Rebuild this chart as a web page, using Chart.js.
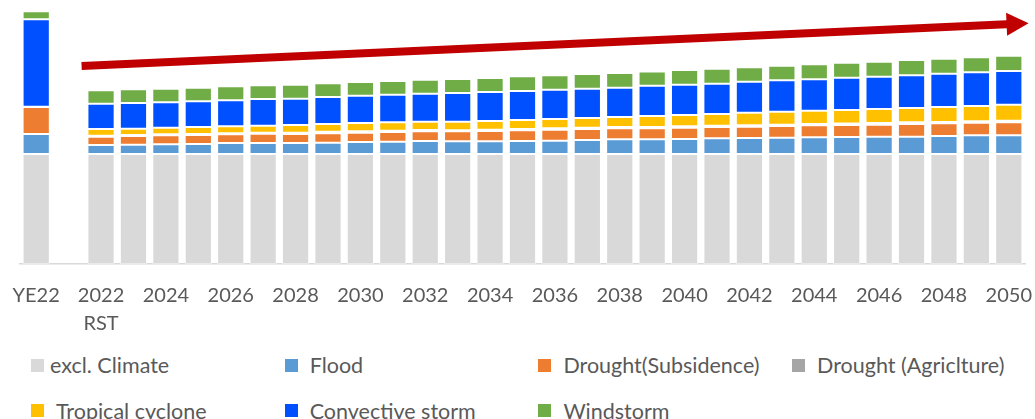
<!DOCTYPE html>
<html>
<head>
<meta charset="utf-8">
<script src="https://cdn.jsdelivr.net/npm/chart.js@4"></script>
<style>
  html, body { margin: 0; padding: 0; background: #fff; }
  body { width: 1035px; height: 419px; overflow: hidden; position: relative; font-family: Lato, "Open Sans", sans-serif; }
  #wrap { position: absolute; left: 0; top: 0; width: 1035px; height: 340px; }
  #legend { position: absolute; left: 31px; top: 350px; width: 1015px; display: grid; grid-template-columns: repeat(4, 253.7px); grid-auto-rows: 45.7px; }
  .item { display: flex; align-items: center; height: 30px; color: #595959; font-size: 21.5px; white-space: nowrap; }
  .sw { width: 13px; height: 13px; margin-right: 12px; flex: none; }
  .item.first .sw { margin-right: 6px; }
</style>
</head>
<body>
<div id="wrap"><canvas id="c" width="1035" height="340"></canvas></div>
<div id="legend"></div>
<script>
// ---- data (relative units) ----
const categories = ['YE22', '', ['2022', 'RST'], '2023', '2024', '2025', '2026', '2027', '2028', '2029', '2030',
  '2031', '2032', '2033', '2034', '2035', '2036', '2037', '2038', '2039', '2040',
  '2041', '2042', '2043', '2044', '2045', '2046', '2047', '2048', '2049', '2050'];

const exclClimate = [110, null, 110, 110, 110, 110, 110, 110, 110, 110, 110,
  110, 110, 110, 110, 110, 110, 110, 110, 110, 110,
  110, 110, 110, 110, 110, 110, 110, 110, 110, 110];
const flood = [20, null, 9, 9.3, 9.7, 10, 11, 11, 11, 11.3, 12,
  12.3, 13, 12.7, 12.7, 13, 13.3, 14, 14.7, 14.8, 15,
  15.7, 16, 16.3, 16.7, 17, 17.3, 17.3, 18, 18.7, 18.7];
const droughtSubsidence = [27, null, 8.3, 8.7, 9, 9, 8.7, 9.3, 9, 9.4, 9.3,
  9.7, 9.7, 10, 10.3, 10.7, 11, 11, 11, 10.9, 11.3,
  11.3, 11.3, 11.7, 12, 12, 12, 12.7, 12.7, 12.6, 13];
const droughtAgriculture = [0.3, null, 1, 1, 1, 1, 1, 1, 1.3, 1.6, 1.4,
  1.3, 1.3, 1, 1.3, 1.3, 1.4, 1.3, 1.3, 1.3, 1.4,
  1.3, 1.4, 1.3, 1.3, 1.5, 1.7, 1.7, 1.3, 1.4, 1.6];
const tropicalCyclone = [0, null, 6.7, 6.3, 6.6, 7, 7, 7, 7.7, 7.7, 8.3,
  8.4, 8.3, 8.6, 8.7, 9, 9.3, 9.7, 10, 11, 11.3,
  11.7, 12.6, 13, 13.3, 13.5, 14, 14.3, 15, 15.3, 16];
const convectiveStorm = [87.5, null, 25.3, 25.7, 25.4, 25.7, 26, 26.7, 26.3, 27, 27.3,
  27.6, 28, 28.7, 29, 29, 29.3, 29.3, 29.3, 30.2, 30.3,
  30.3, 31, 31.4, 31.4, 32.2, 32.3, 32.7, 33.3, 33.7, 33.7];
const windstorm = [8, null, 13.4, 13.7, 13.6, 13.6, 14, 13.7, 14, 13.7, 13.7,
  13.7, 14, 14, 14, 14.7, 14.4, 14.7, 14.7, 14.3, 14.7,
  15, 14.4, 14.6, 15, 15.1, 15, 15.3, 15, 15, 15.3];

const seriesNames = ['excl. Climate', 'Flood', 'Drought(Subsidence)', 'Drought (Agriclture)',
  'Tropical cyclone', 'Convective storm', 'Windstorm'];
const seriesColors = ['#D9D9D9', '#5B9BD5', '#ED7D31', '#A5A5A5', '#FFC000', '#0050FF', '#70AD47'];
const seriesData = [exclClimate, flood, droughtSubsidence, droughtAgriculture, tropicalCyclone, convectiveStorm, windstorm];

// trend arrow (category index, value)
const arrowFrom = { x: 1.4, y: 198 };
const arrowTo = { x: 30.61, y: 240.7 };

const FONT = 'Lato, "Open Sans", sans-serif';

const arrowPlugin = {
  id: 'trendArrow',
  afterDraw(chart) {
    const xs = chart.scales.x, ys = chart.scales.y, ctx = chart.ctx;
    const x0 = xs.getPixelForValue(arrowFrom.x), y0 = ys.getPixelForValue(arrowFrom.y);
    const x1 = xs.getPixelForValue(arrowTo.x), y1 = ys.getPixelForValue(arrowTo.y);
    const ang = Math.atan2(y1 - y0, x1 - x0);
    const len = Math.hypot(x1 - x0, y1 - y0);
    const headLen = 22, headHalf = 11.5, shaftHalf = 4;
    ctx.save();
    ctx.translate(x0, y0);
    ctx.rotate(ang);
    ctx.fillStyle = '#C00000';
    ctx.beginPath();
    ctx.moveTo(0, -shaftHalf);
    ctx.lineTo(len - headLen, -shaftHalf);
    ctx.lineTo(len - headLen, -headHalf);
    ctx.lineTo(len, 0);
    ctx.lineTo(len - headLen, headHalf);
    ctx.lineTo(len - headLen, shaftHalf);
    ctx.lineTo(0, shaftHalf);
    ctx.closePath();
    ctx.fill();
    ctx.restore();
  }
};

new Chart(document.getElementById('c'), {
  type: 'bar',
  data: {
    labels: categories,
    datasets: seriesData.map((d, i) => ({
      label: seriesNames[i],
      data: d,
      backgroundColor: seriesColors[i],
      borderColor: 'rgba(255,255,255,0.45)',
      borderWidth: 1,
      borderSkipped: false,
      categoryPercentage: 1,
      barPercentage: 0.84
    }))
  },
  options: {
    responsive: false,
    animation: false,
    events: [],
    layout: { padding: { left: 20, right: 10, top: 9, bottom: 0 } },
    plugins: { legend: { display: false }, tooltip: { enabled: false } },
    scales: {
      x: {
        stacked: true,
        grid: { display: false, drawTicks: false },
        border: { display: true, color: '#D9D9D9', width: 1.5 },
        afterFit(scale) { scale.height = 76; scale.paddingLeft = 0; scale.paddingRight = 0; },
        ticks: {
          autoSkip: false,
          maxRotation: 0,
          padding: 18,
          color: '#595959',
          font: { family: FONT, size: 20, lineHeight: 1.4 },
          callback(value, index) { return index % 2 === 0 ? this.getLabelForValue(value) : ''; }
        }
      },
      y: { stacked: true, display: false, min: 0, max: 255 }
    }
  },
  plugins: [arrowPlugin]
});

const legend = document.getElementById('legend');
seriesNames.forEach((n, i) => {
  const d = document.createElement('div');
  d.className = 'item' + (i === 0 ? ' first' : '');
  const s = document.createElement('span');
  s.className = 'sw';
  s.style.background = seriesColors[i];
  const t = document.createElement('span');
  t.textContent = n;
  d.appendChild(s); d.appendChild(t);
  legend.appendChild(d);
});
</script>
</body>
</html>
